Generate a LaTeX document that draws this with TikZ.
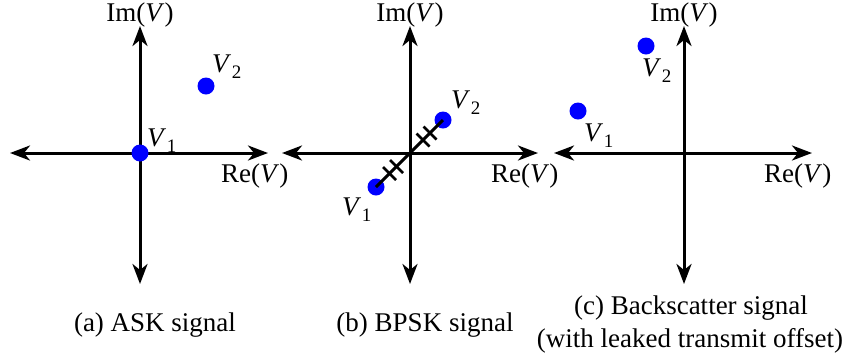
\documentclass[tikz,border=0pt]{standalone}
\usepackage{fontspec}
\setmainfont{Liberation Serif}
\usetikzlibrary{arrows.meta}
\newcommand{\vsub}[1]{\textit{V}\hspace{0.5pt}\raisebox{-6pt}{\fontsize{19}{19}\selectfont #1}}
\newcommand{\vit}{\textit{V\/}}
\begin{document}
\begin{tikzpicture}[x=1pt,y=-1pt,
  axis/.style={line width=3pt,{Stealth[length=20pt,width=15pt,inset=6pt]}-{Stealth[length=20pt,width=15pt,inset=6pt]}},
  pt/.style={circle,fill=blue,inner sep=0pt,minimum size=17pt},
  lbl/.style={font=\fontsize{27}{32}\selectfont,inner sep=0pt,anchor=base west},
  ttl/.style={font=\fontsize{27}{32}\selectfont,inner sep=0pt,anchor=base},
  tick/.style={line width=2.6pt}]
\useasboundingbox (0,0) rectangle (848,360);
% ---------- (a) ----------
\coordinate (aL) at (10,153); \coordinate (aR) at (268,153);
\coordinate (aT) at (140,26); \coordinate (aB) at (140,284);
\draw[axis] (aL) -- (aR);
\draw[axis] (aT) -- (aB);
\node[pt] (a1) at (140,153) {};
\node[pt] (a2) at (206,86) {};
\node[ttl] (aIm) at (140,21) {Im(\vit)};
\node[lbl] (aRe) at (221,182) {Re(\vit)};
\node[lbl] (a1l) at (147,146) {\vsub{1}};
\node[lbl] (a2l) at (212,72) {\vsub{2}};
\node[ttl] (acap) at (155,331) {(a) ASK signal};
% ---------- (b) ----------
\coordinate (bL) at (282,153); \coordinate (bR) at (538,153);
\coordinate (bT) at (410,26); \coordinate (bB) at (410,284);
\coordinate (bO) at (410,153);
\draw[axis] (bL) -- (bR);
\draw[axis] (bT) -- (bB);
\node[pt] (b2) at (443,120) {};
\node[pt] (b1) at (376,187) {};
\draw[line width=3pt] (b1.center) -- (b2.center);
\foreach \m in {b1,b2}{
  \path (bO) -- (\m.center) coordinate[pos=0.5] (mid);
  \begin{scope}[shift={(mid)}]
    \draw[tick] (-3.5,3.5) ++(-6.5,-6.5) -- ++(13,13);
    \draw[tick] (3.5,-3.5) ++(-6.5,-6.5) -- ++(13,13);
  \end{scope}
}
\node[ttl] (bIm) at (410,21) {Im(\vit)};
\node[lbl] (bRe) at (491,182) {Re(\vit)};
\node[lbl] (b1l) at (342,215) {\vsub{1}};
\node[lbl] (b2l) at (451,108) {\vsub{2}};
\node[ttl] (bcap) at (425,331) {(b) BPSK signal};
% ---------- (c) ----------
\coordinate (cL) at (554,153); \coordinate (cR) at (812,153);
\coordinate (cT) at (684,26); \coordinate (cB) at (684,284);
\draw[axis] (cL) -- (cR);
\draw[axis] (cT) -- (cB);
\node[pt] (c2) at (646,46) {};
\node[pt] (c1) at (578,111) {};
\node[ttl] (cIm) at (684,21) {Im(\vit)};
\node[lbl] (cRe) at (764,182) {Re(\vit)};
\node[lbl] (c1l) at (584,141) {\vsub{1}};
\node[lbl] (c2l) at (642,76) {\vsub{2}};
\node[ttl] (ccap1) at (691,314) {(c) Backscatter signal};
\node[ttl] (ccap2) at (690,347) {(with leaked transmit offset)};
\end{tikzpicture}
\end{document}
